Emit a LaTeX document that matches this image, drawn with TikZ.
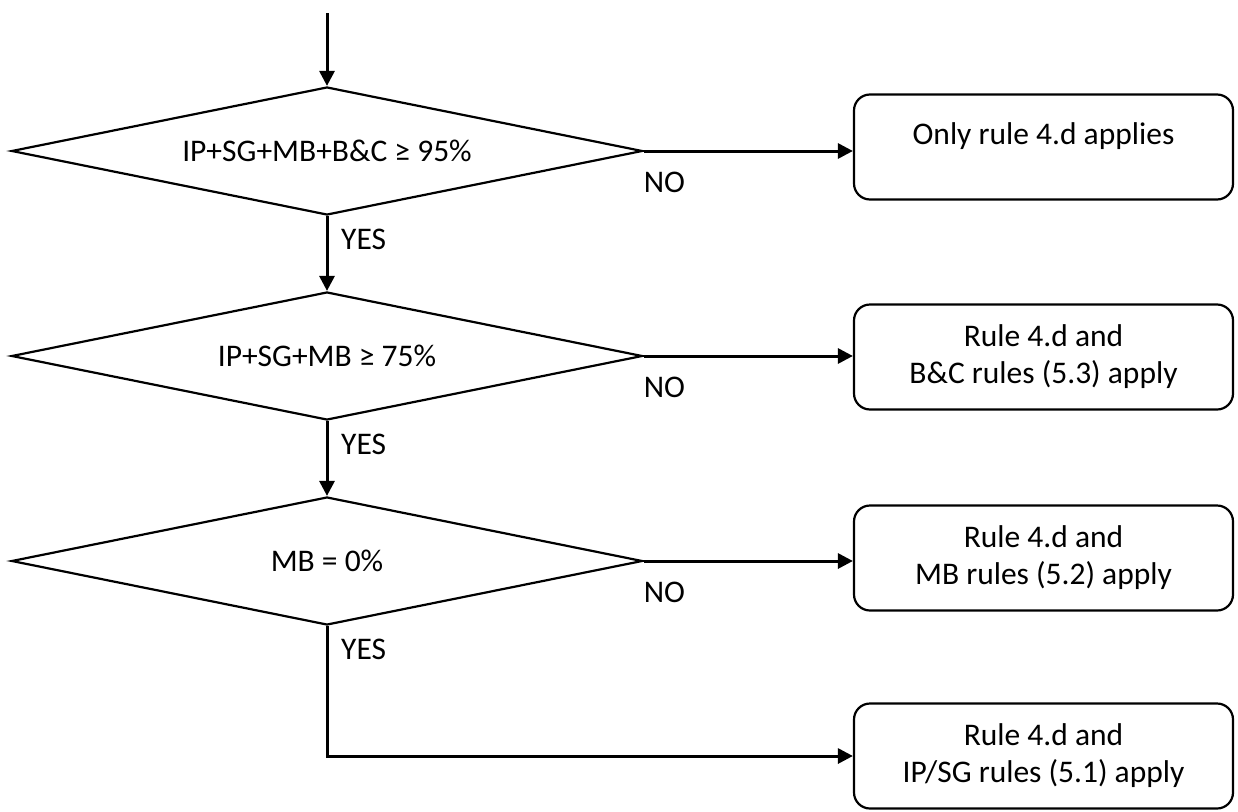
\documentclass[tikz,border=0pt]{standalone}
\usepackage{fontspec}
\setmainfont{Carlito}
\usetikzlibrary{shapes.geometric,arrows.meta,calc,positioning}

\tikzset{
    decision/.style={draw, shape=diamond, aspect=4.93, line width=2.2pt, inner sep=0pt,
        minimum width=631pt, minimum height=128pt, font=\fontsize{31.5}{37}\selectfont},
    rulebox/.style={draw, rounded corners=16pt, line width=2.2pt, align=center,
        minimum width=379pt, minimum height=105pt, font=\fontsize{31.5}{37}\selectfont},
    flow/.style={line width=3pt, -{Triangle[length=15pt,width=15pt]}},
    answer/.style={anchor=west, inner sep=0pt, font=\fontsize{31.5}{37}\selectfont}
}

\begin{document}
\begin{tikzpicture}[x=1pt,y=-1pt]
    \useasboundingbox (0,0) rectangle (1238,811);

        % Draw the three tests
        \foreach \n/\y/\cond in {1/151/{IP+SG+MB+B\&C ≥ 95\%}, 2/356/{IP+SG+MB ≥ 75\%}, 3/561/{MB = 0\%}} {
            \node[decision] (d\n) at (327,\y) {\cond};
        }

        % Draw the outcome boxes
        \foreach \n/\y/\txt in {1/147/{Only rule 4.d applies\\[-10pt]~},
                                2/357/{Rule 4.d and\\B\&C rules (5.3) apply},
                                3/558/{Rule 4.d and\\MB rules (5.2) apply},
                                4/756/{Rule 4.d and\\IP/SG rules (5.1) apply}} {
            \node[rulebox] (r\n) at (1043.5,\y) {\txt};
        }

    \coordinate (start) at (327,13);
    \draw[flow] (start) -- (d1.north);
    \draw[flow] (d1.south) -- (d2.north);
    \draw[flow] (d2.south) -- (d3.north);
    \draw[flow] (d3.south) |- (r4.west);

        % NO branches
        \foreach \n in {1,2,3} {
            \draw[flow] (d\n.east) -- (d\n.east -| r\n.west);
            \node[answer] (no\n) at ([xshift=0pt,yshift=-31pt]d\n.east) {NO};
        }

        % YES labels
        \foreach \n in {1,2,3} {
            \node[answer] (yes\n) at ([xshift=14pt,yshift=-23pt]d\n.south) {YES};
        }

\end{tikzpicture}
\end{document}
